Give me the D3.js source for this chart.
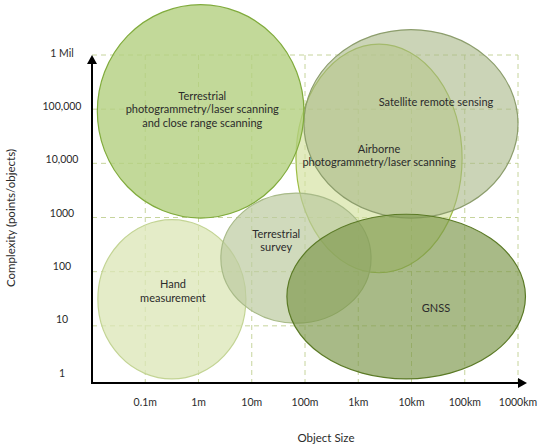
<!DOCTYPE html>
<html><head><meta charset="utf-8">
<script src="https://cdn.jsdelivr.net/npm/d3@7"></script>
<style>
html,body{margin:0;padding:0;background:#fff;}
svg{display:block;font-family:Lato,"Noto Sans",sans-serif;}
</style></head>
<body>
<svg id="chart" width="550" height="448"></svg>
<script>
// ---- data ----
const xTickValues = [0.1, 1, 10, 100, 1000, 10000, 100000, 1000000];
const xTickLabels = ["0.1m", "1m", "10m", "100m", "1km", "10km", "100km", "1000km"];
const yTickValues = [1, 10, 100, 1000, 10000, 100000, 1000000];
const yTickLabels = ["1", "10", "100", "1000", "10,000", "100,000", "1 Mil"];

// ellipses: centre and radii in decades (log10 of metres / of points)
const methods = ["Airborne\nphotogrammetry/laser scanning", "Satellite remote sensing", "Terrestrial\nphotogrammetry/laser scanning\nand close range scanning", "Hand\nmeasurement", "Terrestrial\nsurvey", "GNSS"];
const centreX = [3.39, 3.99, 0.04, -0.50, 1.83, 3.90];
const centreY = [4.09, 4.73, 4.96, 1.49, 2.25, 1.54];
const radiusX = [1.56, 2.01, 1.94, 1.39, 1.41, 2.24];
const radiusY = [2.11, 1.74, 1.97, 1.47, 1.20, 1.52];
const labelX  = [3.39, 4.46, 0.07, -0.48, 1.46, 4.46];
const labelY  = [4.14, 5.13, 5.00, 1.64, 2.57, 1.33];

// ---- styles ----
const fills   = ["#d2e19c", "#a9b887", "#b3cf80", "#dbe6b6", "#bccaa0", "#7f9a4e"];
const strokes = ["#9dbd45", "#8c9d6c", "#80ab3c", "#c3d494", "#a8ba88", "#5b7a26"];
const alphas  = [0.65, 0.6, 0.8, 0.75, 0.7, 0.68];

const svg = d3.select("#chart");
const x = d3.scaleLog().domain([0.01, 1e6]).range([92, 518]);
const y = d3.scaleLog().domain([1, 1e6]).range([380, 55]);
const yLab = d3.scaleLog().domain([1, 1e6]).range([373, 53]);
const axisY = 383;
const gridColor = "#c6d49c";

// grid
const grid = svg.append("g");
grid.selectAll(".hg").data(yTickValues.slice(1)).join("line")
  .attr("x1", x(0.01)).attr("x2", x(1e6))
  .attr("y1", d => y(d)).attr("y2", d => y(d))
  .attr("stroke", gridColor).attr("stroke-width", 1).attr("stroke-dasharray", "5,4");
grid.selectAll(".vg").data(xTickValues).join("line")
  .attr("x1", d => x(d)).attr("x2", d => x(d))
  .attr("y1", y(1e6)).attr("y2", axisY)
  .attr("stroke", gridColor).attr("stroke-width", 1).attr("stroke-dasharray", "5,4");

// ellipses
const data = methods.map((m, i) => ({m, cx: centreX[i], cy: centreY[i], rx: radiusX[i], ry: radiusY[i], lx: labelX[i], ly: labelY[i], i}));
svg.append("g").selectAll("ellipse").data(data).join("ellipse")
  .attr("cx", d => x(10 ** d.cx))
  .attr("cy", d => y(10 ** d.cy))
  .attr("rx", d => x(10 ** (d.cx + d.rx)) - x(10 ** d.cx))
  .attr("ry", d => y(10 ** d.cy) - y(10 ** (d.cy + d.ry)))
  .attr("fill", d => fills[d.i]).attr("fill-opacity", d => alphas[d.i])
  .attr("stroke", d => strokes[d.i]).attr("stroke-width", 1.2);

// labels
const lh = 13.5;
svg.append("g").selectAll("text").data(data).join("text")
  .attr("text-anchor", "middle")
  .attr("font-size", 11).attr("fill", "#2b2b2b")
  .each(function(d) {
    const lines = d.m.split("\n");
    const t = d3.select(this);
    const cy0 = y(10 ** d.ly) - (lines.length - 1) * lh / 2;
    lines.forEach((ln, k) => {
      t.append("tspan").attr("x", x(10 ** d.lx)).attr("y", cy0 + k * lh).attr("dy", "0.35em").text(ln);
    });
  });

// axes
svg.append("line").attr("x1", x(0.01)).attr("x2", x(1e6)).attr("y1", axisY).attr("y2", axisY)
  .attr("stroke", "#000").attr("stroke-width", 2);
svg.append("path").attr("d", `M${x(1e6)},${axisY-5}L${x(1e6)+9},${axisY}L${x(1e6)},${axisY+5}Z`).attr("fill", "#000");
svg.append("line").attr("x1", x(0.01)).attr("x2", x(0.01)).attr("y1", axisY + 1).attr("y2", y(1e6) + 8)
  .attr("stroke", "#000").attr("stroke-width", 2);
svg.append("path").attr("d", `M${x(0.01)-5},${y(1e6)+9}L${x(0.01)},${y(1e6)}L${x(0.01)+5},${y(1e6)+9}Z`).attr("fill", "#000");

// tick labels
svg.append("g").selectAll("text").data(xTickValues).join("text")
  .attr("x", d => x(d)).attr("y", 402).attr("dy", "0.35em")
  .attr("text-anchor", "middle").attr("font-size", 10.5).attr("fill", "#2b2b2b")
  .text((d, i) => xTickLabels[i]);
svg.append("g").selectAll("text").data(yTickValues).join("text")
  .attr("x", 62).attr("y", d => yLab(d)).attr("dy", "0.35em")
  .attr("text-anchor", "middle").attr("font-size", 10.5).attr("fill", "#2b2b2b")
  .text((d, i) => yTickLabels[i]);

// titles
svg.append("text").attr("x", 326).attr("y", 438).attr("dy", "0.35em")
  .attr("text-anchor", "middle").attr("font-size", 11.5).attr("fill", "#2b2b2b").text("Object Size");
svg.append("text").attr("transform", "translate(11,218) rotate(-90)").attr("dy", "0.35em")
  .attr("text-anchor", "middle").attr("font-size", 11.5).attr("fill", "#2b2b2b").text("Complexity (points/objects)");
</script>
</body></html>
